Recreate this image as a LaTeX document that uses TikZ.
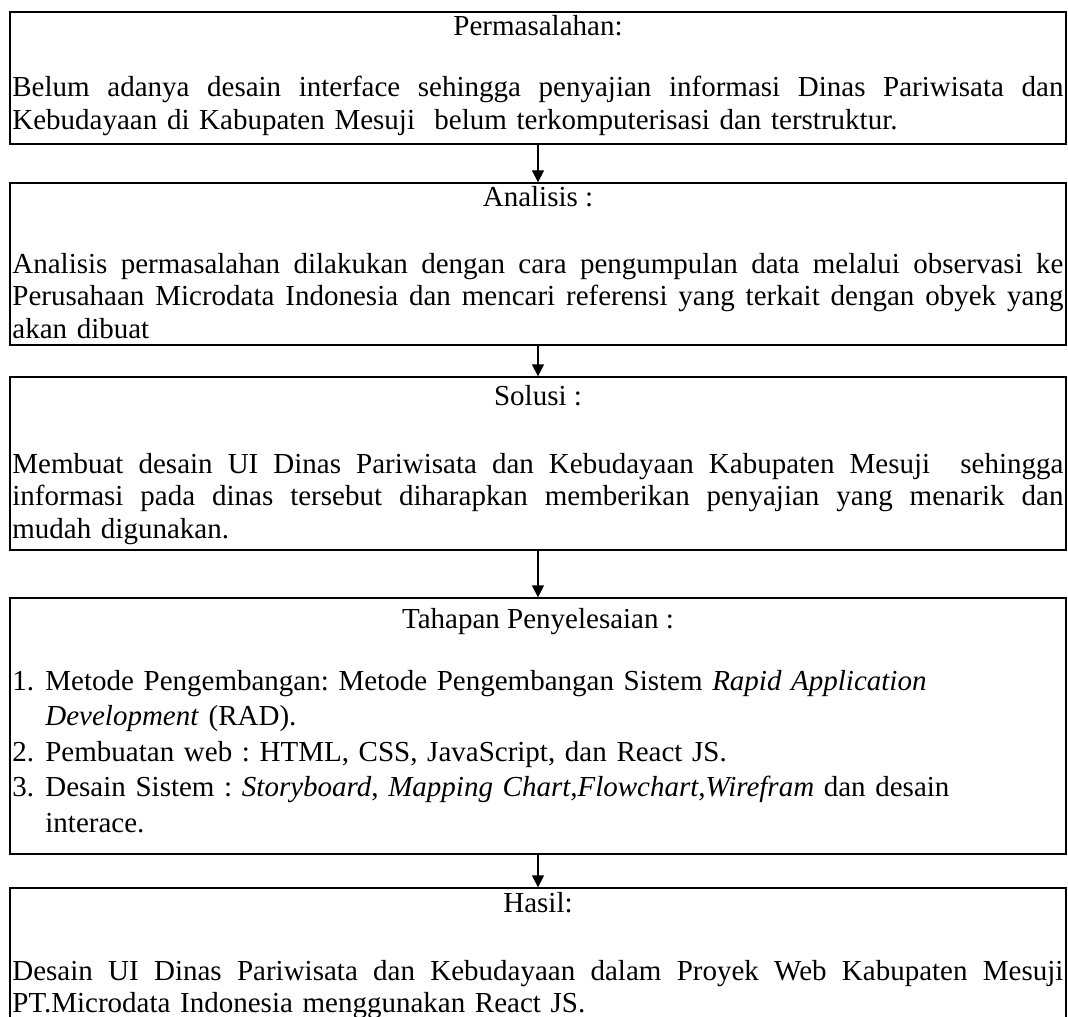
\documentclass[tikz,border=0pt]{standalone}
\usepackage{fontspec}
\setmainfont{Liberation Serif}
\usetikzlibrary{arrows.meta}
\frenchspacing

% baris rata kiri-kanan dan butir daftar
\newcommand\jline[1]{{\spaceskip=\fontdimen2\font plus 1fil\xspaceskip=\spaceskip\makebox[525.5pt][s]{#1}}}
\newcommand\litem[1]{\makebox[16.5pt][l]{#1}}
\newcommand\lcont{\hspace*{16.5pt}}

\begin{document}
\begin{tikzpicture}[x=0.5pt,y=-0.5pt,
    kotak/.style={draw, line width=0.65pt, minimum width=528pt, inner sep=0pt},
    judul/.style={anchor=base, inner sep=0pt, font=\fontsize{14.5}{16.5}\selectfont},
    isi/.style={anchor=base west, text width=525.5pt, align=left, inner sep=0pt, font=\fontsize{14.5}{16.3}\selectfont},
    panah/.style={-{Triangle[width=6pt,length=6pt]}, line width=0.65pt}]
    \useasboundingbox (0,0) rectangle (1068,1016);
    \clip (0,0) rectangle (1068,1016);

    % kotak-kotak tahapan
    \node[kotak, minimum height=66pt] (masalah) at (538,78) {};
    \node[kotak, minimum height=81pt] (analisis) at (538,264) {};
    \node[kotak, minimum height=86.5pt] (solusi) at (538,463.5) {};
    \node[kotak, minimum height=128pt] (tahapan) at (538,726) {};
    \node[kotak, minimum height=80pt] (hasil) at (538,968) {};

    % judul
    \node[judul] (masalahJ) at (538,36) {Permasalahan:};
    \node[judul] (analisisJ) at (538,206) {Analisis :};
    \node[judul] (solusiJ) at (538,405) {Solusi :};
    \node[judul] (tahapanJ) at (538,628) {Tahapan Penyelesaian :};
    \node[judul] (hasilJ) at (538,912) {Hasil:};

    % isi
    \node[isi] (masalahI) at (12,97) {
        \jline{Belum adanya desain interface sehingga penyajian informasi Dinas Pariwisata dan}\\
        Kebudayaan di Kabupaten Mesuji\ \ belum terkomputerisasi dan terstruktur.
    };
    \node[isi] (analisisI) at (12,273) {
        \jline{Analisis permasalahan dilakukan dengan cara pengumpulan data melalui observasi ke}\\
        \jline{Perusahaan Microdata Indonesia dan mencari referensi yang terkait dengan obyek yang}\\
        akan dibuat
    };
    \node[isi] (solusiI) at (12,473) {
        \jline{Membuat desain UI Dinas Pariwisata dan Kebudayaan Kabupaten Mesuji\ \ sehingga}\\
        \jline{informasi pada dinas tersebut diharapkan memberikan penyajian yang menarik dan}\\
        mudah digunakan.
    };
    \node[isi, font=\fontsize{14.5}{17.75}\selectfont] (tahapanI) at (12,690) {
        \litem{1.}Metode Pengembangan: Metode Pengembangan Sistem \textit{Rapid Application}\\
        \lcont\textit{Development} (RAD).\\
        \litem{2.}Pembuatan web : HTML, CSS, JavaScript, dan React JS.\\
        \litem{3.}Desain Sistem : \textit{Storyboard}, \textit{Mapping Chart,Flowchart,Wirefram} dan desain\\
        \lcont interace.
    };
    \node[isi] (hasilI) at (12,980) {
        \jline{Desain UI Dinas Pariwisata dan Kebudayaan dalam Proyek Web Kabupaten Mesuji}\\
        PT.Microdata Indonesia menggunakan React JS.
    };

    % panah
    \draw[panah] (masalah.south) -- (analisis.north);
    \draw[panah] (analisis.south) -- (solusi.north);
    \draw[panah] (solusi.south) -- (tahapan.north);
    \draw[panah] (tahapan.south) -- (hasil.north);
\end{tikzpicture}
\end{document}
